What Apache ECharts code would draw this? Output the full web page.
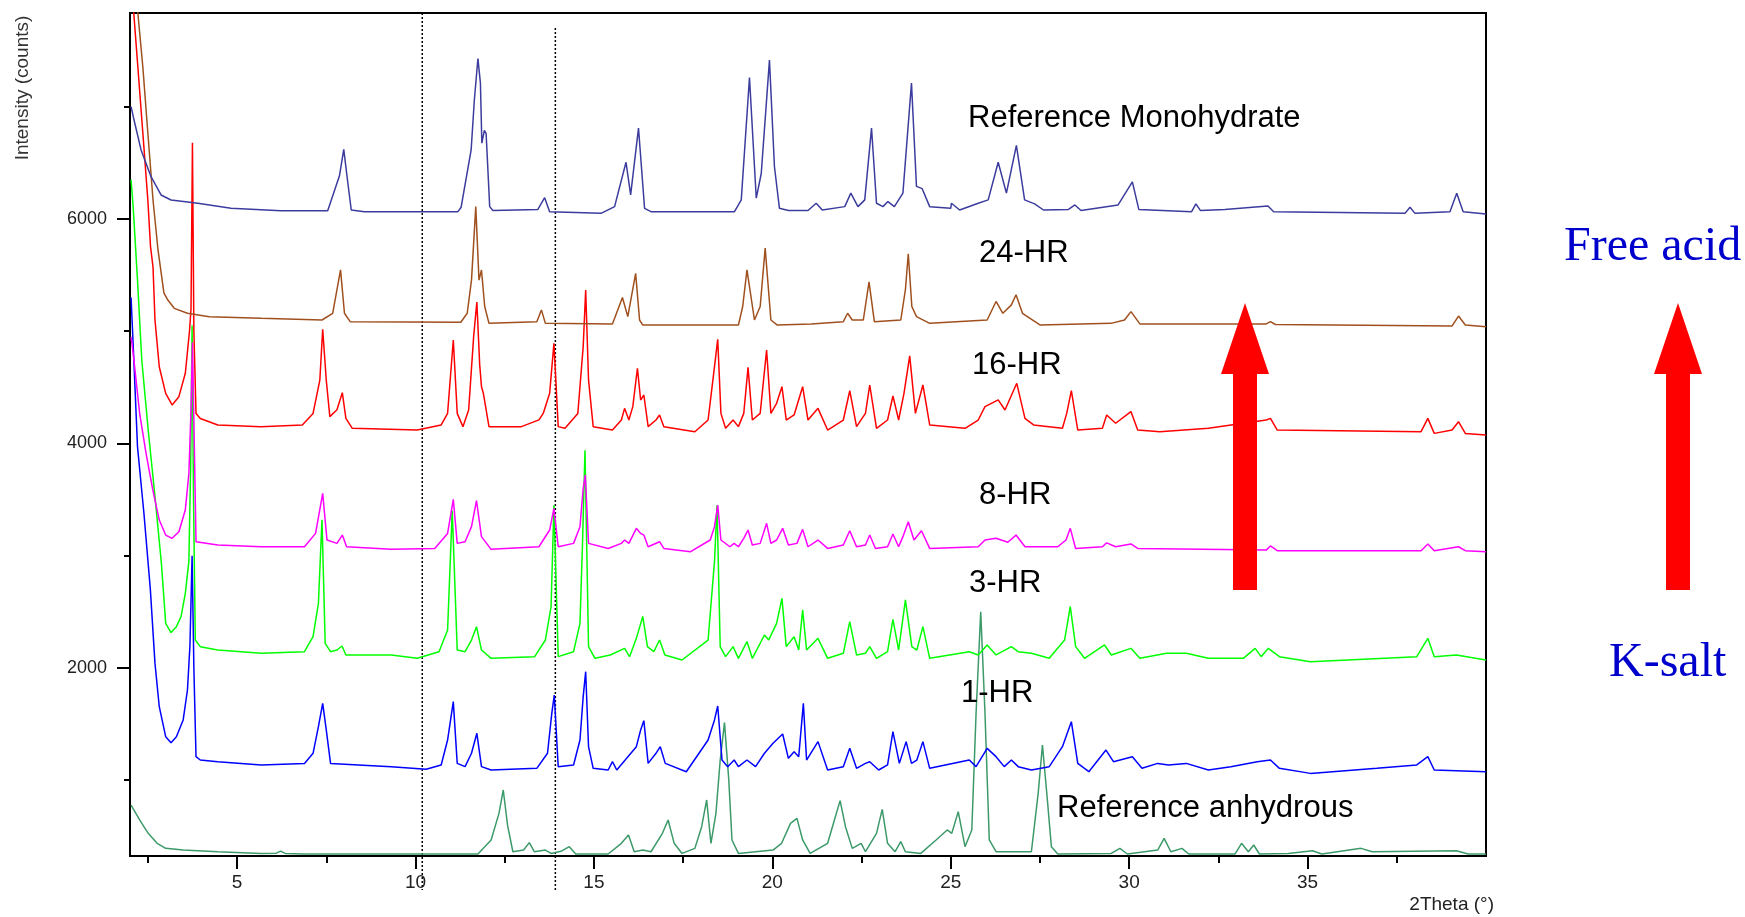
<!DOCTYPE html>
<html><head><meta charset="utf-8">
<script src="https://cdn.jsdelivr.net/npm/echarts@6/dist/echarts.min.js"></script>
<style>html,body{margin:0;padding:0;background:#fff}#c{width:1745px;height:917px}</style>
</head><body><div id="c"></div>
<script>
// ---- axis ticks ----
const xMajorTicks = [5, 10, 15, 20, 25, 30, 35];
const xMinorTicks = [2.5, 7.5, 12.5, 17.5, 22.5, 27.5, 32.5, 37.5];
const yMajorTicks = [2000, 4000, 6000];
const yMinorTicks = [1000, 3000, 5000, 7000];
const markerAngles = [10.19, 13.92];   // dotted reference lines (2θ)

// ---- series names ----
const seriesNames = ['Reference anhydrous', '1-HR', '3-HR', '8-HR', '16-HR', '24-HR', 'Reference Monohydrate'];

// ---- series values [2θ, counts] ----
const monohydrate = [[2.03,7000],[2.1,6900],[2.31,6615],[2.59,6377],[2.87,6214],[3.15,6169],[3.9,6140],[4.83,6095],[6.23,6074],[7.54,6074],[7.59,6080],[7.87,6385],[7.99,6620],[8.08,6385],[8.2,6080],[8.57,6065],[11.19,6065],[11.28,6105],[11.56,6615],[11.65,7060],[11.75,7430],[11.82,7210],[11.86,6675],[11.93,6790],[11.98,6760],[12.08,6110],[12.17,6075],[13.43,6085],[13.62,6190],[13.76,6065],[15.2,6050],[15.58,6110],[15.9,6505],[16.03,6215],[16.25,6810],[16.42,6095],[16.6,6065],[18.94,6065],[19.13,6170],[19.36,7260],[19.55,6185],[19.69,6405],[19.92,7415],[20.06,6465],[20.2,6095],[20.45,6075],[21.0,6075],[21.23,6140],[21.4,6080],[22.03,6110],[22.2,6230],[22.4,6110],[22.59,6170],[22.78,6810],[22.92,6140],[23.1,6110],[23.24,6155],[23.42,6110],[23.66,6230],[23.9,7210],[24.04,6290],[24.2,6270],[24.41,6110],[25.0,6095],[25.02,6140],[25.25,6080],[25.77,6140],[26.05,6170],[26.33,6505],[26.56,6230],[26.84,6655],[27.07,6170],[27.35,6135],[27.6,6080],[28.3,6085],[28.48,6125],[28.65,6075],[29.69,6125],[30.09,6330],[30.27,6085],[31.75,6065],[31.87,6135],[32.0,6075],[32.68,6085],[33.89,6115],[34.05,6065],[37.73,6050],[37.87,6105],[38.01,6050],[38.99,6065],[39.18,6230],[39.36,6065],[40.0,6045]];

const hr24 = [[2.03,8450],[2.22,7835],[2.36,7354],[2.5,6766],[2.645,6169],[2.785,5724],[2.95,5341],[3.06,5278],[3.24,5204],[3.61,5160],[4.22,5130],[5.68,5115],[7.38,5100],[7.68,5160],[7.9,5546],[8.01,5160],[8.17,5085],[11.27,5080],[11.45,5160],[11.57,5455],[11.69,6110],[11.78,5455],[11.85,5546],[11.94,5220],[12.06,5070],[13.4,5085],[13.53,5190],[13.64,5070],[15.52,5065],[15.8,5300],[15.95,5130],[16.17,5515],[16.28,5100],[16.37,5055],[19.05,5055],[19.17,5220],[19.29,5546],[19.5,5100],[19.66,5220],[19.8,5740],[19.96,5100],[20.14,5055],[21.09,5065],[21.99,5085],[22.11,5160],[22.24,5100],[22.55,5100],[22.71,5440],[22.86,5085],[23.6,5100],[23.73,5370],[23.81,5690],[23.91,5220],[24.04,5130],[24.41,5070],[26.02,5100],[26.27,5265],[26.46,5160],[26.7,5235],[26.83,5325],[27.01,5160],[27.51,5055],[29.49,5070],[29.87,5100],[30.05,5175],[30.3,5065],[33.84,5065],[33.96,5085],[34.1,5060],[39.05,5047],[39.23,5135],[39.42,5055],[40.0,5040]];

const hr16 = [[2.03,8150],[2.22,7354],[2.36,6766],[2.5,6169],[2.575,5754],[2.645,5572],[2.7,5100],[2.82,4684],[3.0,4447],[3.18,4343],[3.37,4417],[3.55,4625],[3.67,5011],[3.71,5200],[3.75,6680],[3.79,5000],[3.85,4268],[3.97,4223],[4.46,4165],[5.67,4150],[6.83,4165],[7.13,4268],[7.32,4565],[7.4,5017],[7.5,4565],[7.6,4239],[7.8,4300],[7.95,4453],[8.05,4224],[8.23,4135],[10.05,4120],[10.72,4165],[10.9,4268],[11.06,4922],[11.17,4268],[11.33,4150],[11.49,4298],[11.63,4952],[11.72,5260],[11.8,4700],[11.85,4506],[11.9,4450],[12.06,4150],[12.97,4150],[13.46,4210],[13.58,4268],[13.76,4447],[13.88,4892],[14.0,4150],[14.19,4135],[14.55,4268],[14.7,4863],[14.77,5368],[14.85,4566],[14.98,4150],[15.52,4120],[15.77,4209],[15.86,4313],[15.98,4209],[16.09,4328],[16.22,4670],[16.31,4387],[16.4,4432],[16.52,4150],[16.74,4209],[16.84,4254],[16.96,4150],[17.83,4105],[18.2,4209],[18.38,4684],[18.47,4928],[18.56,4268],[18.69,4135],[18.9,4209],[19.05,4150],[19.2,4268],[19.32,4678],[19.44,4209],[19.66,4268],[19.84,4833],[19.96,4268],[20.12,4358],[20.27,4506],[20.39,4209],[20.61,4254],[20.85,4506],[21.0,4209],[21.28,4313],[21.55,4120],[21.99,4209],[22.17,4470],[22.36,4150],[22.61,4268],[22.73,4521],[22.92,4135],[23.23,4209],[23.38,4423],[23.54,4209],[23.69,4447],[23.85,4780],[24.01,4268],[24.22,4521],[24.41,4165],[25.4,4135],[25.77,4209],[25.96,4328],[26.33,4388],[26.52,4298],[26.85,4536],[27.08,4224],[27.32,4165],[28.13,4135],[28.25,4268],[28.38,4470],[28.56,4120],[29.25,4135],[29.37,4254],[29.62,4180],[30.05,4284],[30.24,4120],[30.86,4105],[32.22,4135],[33.84,4209],[33.96,4224],[34.15,4120],[38.18,4105],[38.37,4224],[38.55,4090],[39.05,4120],[39.23,4194],[39.42,4090],[40.0,4076]];

const hr8 = [[2.03,4950],[2.09,4800],[2.27,4269],[2.45,3912],[2.64,3585],[2.82,3318],[3.0,3184],[3.18,3155],[3.37,3214],[3.55,3407],[3.65,3734],[3.71,4300],[3.75,4900],[3.79,4200],[3.85,3125],[4.46,3095],[5.68,3080],[6.89,3080],[7.2,3199],[7.4,3556],[7.52,3140],[7.8,3110],[7.95,3184],[8.07,3080],[9.32,3057],[10.54,3065],[10.9,3199],[11.06,3502],[11.17,3110],[11.39,3125],[11.57,3259],[11.71,3490],[11.85,3170],[12.12,3057],[13.46,3080],[13.76,3229],[13.88,3422],[14.0,3080],[14.43,3110],[14.61,3259],[14.7,3600],[14.76,3720],[14.85,3110],[15.4,3065],[15.77,3110],[15.86,3140],[15.98,3110],[16.19,3244],[16.31,3199],[16.4,3184],[16.52,3080],[16.84,3125],[16.96,3065],[17.71,3036],[18.26,3140],[18.38,3259],[18.47,3452],[18.56,3140],[18.81,3080],[18.93,3110],[19.05,3080],[19.2,3155],[19.32,3229],[19.44,3095],[19.66,3110],[19.84,3289],[19.96,3110],[20.12,3140],[20.29,3244],[20.45,3095],[20.69,3110],[20.85,3235],[21.0,3080],[21.28,3140],[21.55,3065],[21.99,3095],[22.17,3223],[22.36,3080],[22.61,3095],[22.73,3184],[22.89,3065],[23.23,3080],[23.38,3193],[23.54,3080],[23.66,3170],[23.81,3303],[23.97,3140],[24.18,3223],[24.41,3065],[25.77,3080],[25.96,3140],[26.27,3155],[26.6,3120],[26.83,3184],[27.08,3080],[28.0,3080],[28.23,3140],[28.35,3244],[28.5,3065],[29.25,3080],[29.37,3115],[29.62,3080],[30.05,3105],[30.24,3065],[33.84,3050],[33.96,3087],[34.15,3045],[38.18,3045],[38.37,3104],[38.55,3045],[39.23,3080],[39.42,3045],[40.0,3036]];

const hr3 = [[2.03,6350],[2.09,6100],[2.21,5457],[2.33,4744],[2.51,4120],[2.7,3526],[2.88,2932],[3.0,2398],[3.15,2315],[3.3,2368],[3.43,2457],[3.55,2665],[3.65,2950],[3.7,3800],[3.74,5050],[3.78,3500],[3.83,2249],[3.97,2190],[4.46,2160],[5.68,2131],[6.89,2145],[7.13,2279],[7.28,2576],[7.38,3320],[7.47,2220],[7.62,2145],[7.8,2160],[7.94,2196],[8.05,2115],[9.32,2116],[10.05,2086],[10.66,2145],[10.9,2338],[11.03,3400],[11.17,2160],[11.39,2145],[11.57,2249],[11.71,2368],[11.85,2160],[12.12,2086],[13.34,2101],[13.64,2249],[13.8,2546],[13.88,3450],[14.0,2101],[14.43,2145],[14.61,2398],[14.68,3100],[14.75,3940],[14.85,2190],[15.03,2086],[15.46,2116],[15.86,2175],[16.0,2101],[16.19,2264],[16.37,2460],[16.5,2190],[16.68,2145],[16.84,2249],[16.99,2116],[17.47,2071],[18.2,2249],[18.38,2950],[18.45,3450],[18.54,2190],[18.69,2101],[18.9,2190],[19.05,2086],[19.29,2235],[19.44,2086],[19.78,2294],[19.9,2250],[20.12,2398],[20.27,2620],[20.39,2190],[20.61,2279],[20.74,2160],[20.85,2517],[20.96,2160],[21.28,2264],[21.55,2086],[21.99,2131],[22.17,2413],[22.36,2116],[22.61,2131],[22.73,2190],[22.92,2086],[23.23,2145],[23.38,2434],[23.54,2160],[23.73,2606],[23.91,2190],[24.05,2160],[24.22,2368],[24.41,2086],[25.52,2145],[25.77,2116],[26.02,2205],[26.27,2116],[26.7,2190],[26.89,2145],[27.26,2131],[27.76,2086],[28.19,2249],[28.35,2546],[28.5,2190],[28.75,2086],[29.31,2205],[29.5,2116],[30.05,2175],[30.3,2086],[31.05,2131],[31.6,2131],[32.22,2086],[33.2,2086],[33.53,2175],[33.7,2101],[33.9,2175],[34.21,2101],[35.08,2056],[38.06,2101],[38.37,2264],[38.55,2101],[39.17,2116],[40.0,2071]];

const hr1 = [[2.03,5300],[2.1,4800],[2.21,3972],[2.39,3378],[2.57,2700],[2.7,2041],[2.82,1655],[3.0,1388],[3.15,1335],[3.3,1388],[3.49,1537],[3.61,1804],[3.68,2200],[3.74,3000],[3.79,2000],[3.85,1210],[3.97,1180],[4.46,1165],[5.68,1136],[6.89,1150],[7.13,1240],[7.28,1477],[7.4,1685],[7.5,1448],[7.62,1150],[9.32,1121],[10.3,1097],[10.72,1136],[10.9,1358],[11.06,1700],[11.17,1150],[11.39,1121],[11.57,1240],[11.72,1418],[11.85,1121],[12.12,1091],[13.4,1106],[13.7,1240],[13.82,1596],[13.89,1759],[14.0,1121],[14.43,1136],[14.61,1358],[14.7,1745],[14.77,1967],[14.85,1299],[14.98,1106],[15.4,1091],[15.52,1165],[15.64,1091],[16.19,1299],[16.31,1448],[16.4,1531],[16.52,1150],[16.74,1240],[16.86,1299],[17.0,1150],[17.59,1076],[18.2,1358],[18.38,1537],[18.47,1661],[18.59,1180],[18.75,1121],[18.93,1180],[19.05,1121],[19.29,1180],[19.53,1121],[19.78,1240],[20.02,1329],[20.29,1412],[20.45,1195],[20.61,1254],[20.74,1210],[20.87,1685],[20.96,1180],[21.28,1344],[21.55,1091],[21.99,1121],[22.17,1284],[22.36,1106],[22.61,1150],[22.73,1165],[22.98,1091],[23.23,1136],[23.38,1433],[23.56,1150],[23.75,1344],[23.9,1150],[24.05,1180],[24.22,1344],[24.41,1106],[25.52,1180],[25.71,1121],[26.02,1284],[26.27,1210],[26.5,1121],[26.7,1180],[26.89,1121],[27.26,1091],[27.76,1121],[28.13,1299],[28.38,1522],[28.56,1150],[28.87,1076],[29.35,1269],[29.56,1165],[30.09,1210],[30.36,1106],[30.8,1150],[31.1,1136],[31.6,1150],[32.22,1091],[32.85,1121],[33.59,1165],[33.96,1180],[34.21,1106],[35.08,1061],[36.94,1106],[38.06,1136],[38.37,1210],[38.55,1091],[39.17,1085],[40.0,1076]];

const anhydrous = [[2.03,779],[2.27,646],[2.51,527],[2.76,438],[3.0,393],[3.49,378],[4.46,363],[5.68,348],[6.1,350],[6.22,368],[6.35,348],[6.89,343],[11.75,343],[12.12,468],[12.34,705],[12.46,913],[12.58,600],[12.73,363],[13.03,378],[13.19,444],[13.33,363],[13.64,378],[13.8,348],[14.1,370],[14.31,408],[14.49,343],[15.4,343],[15.77,438],[15.97,512],[16.13,363],[16.37,378],[16.6,363],[16.92,527],[17.08,646],[17.25,438],[17.47,348],[17.83,393],[18.02,586],[18.16,824],[18.28,438],[18.42,705],[18.54,1180],[18.66,1513],[18.78,1002],[18.87,468],[19.05,348],[20.02,378],[20.26,438],[20.51,616],[20.69,660],[20.85,468],[21.06,348],[21.55,438],[21.74,646],[21.9,818],[22.05,586],[22.24,393],[22.49,438],[22.61,363],[22.92,527],[23.08,741],[23.23,438],[23.44,363],[23.6,453],[23.73,363],[24.16,348],[24.59,468],[24.9,557],[25.03,527],[25.21,720],[25.4,408],[25.59,557],[25.71,1596],[25.84,2500],[25.96,1596],[26.08,468],[26.27,363],[27.26,363],[27.45,883],[27.57,1314],[27.7,854],[27.82,408],[28.0,343],[29.5,348],[29.74,393],[29.95,343],[30.8,378],[30.98,482],[31.17,363],[31.48,393],[31.67,343],[32.97,343],[33.15,438],[33.34,363],[33.49,423],[33.65,343],[34.46,348],[35.14,372],[35.4,343],[36.5,393],[36.81,363],[39.17,372],[39.5,343],[40.0,343]];

const seriesData = [anhydrous, hr1, hr3, hr8, hr16, hr24, monohydrate];
const seriesColors = ['#3c9a6a', '#0000ff', '#00ff00', '#ff00ff', '#ff0000', '#a0501e', '#3c3c9e'];

const SANS = '"Liberation Sans", Arial, sans-serif';
const SERIF = '"Liberation Serif", "Times New Roman", serif';

const chart = echarts.init(document.getElementById('c'), null, {renderer: 'canvas'});

const tickStyle = {color: '#000', width: 2};
const plain = v => String(v);
const option = {
  animation: false,
  grid: {left: 130, right: 259, top: 13, bottom: 61, show: true, borderColor: '#000', borderWidth: 2, backgroundColor: 'transparent'},
  xAxis: [
    {type: 'value', min: 2, max: 40, position: 'bottom',
     axisLine: {show: true, onZero: false, lineStyle: {color: '#000', width: 2}},
     axisTick: {show: true, customValues: xMajorTicks, length: 13, lineStyle: tickStyle},
     axisLabel: {show: true, customValues: xMajorTicks, formatter: plain, margin: 17, fontSize: 19, color: '#222', fontFamily: SANS},
     splitLine: {show: false}},
    {type: 'value', min: 2, max: 40, position: 'bottom',
     axisLine: {show: false, onZero: false},
     axisTick: {show: true, customValues: xMinorTicks, length: 7, lineStyle: tickStyle},
     axisLabel: {show: false}, splitLine: {show: false}}
  ],
  yAxis: [
    {type: 'value', min: 325, max: 7835, position: 'left',
     axisLine: {show: true, onZero: false, lineStyle: {color: '#000', width: 2}},
     axisTick: {show: true, customValues: yMajorTicks, length: 13, lineStyle: tickStyle},
     axisLabel: {show: true, customValues: yMajorTicks, formatter: plain, margin: 23, fontSize: 18, color: '#222', fontFamily: SANS},
     splitLine: {show: false}},
    {type: 'value', min: 325, max: 7835, position: 'left',
     axisLine: {show: false, onZero: false},
     axisTick: {show: true, customValues: yMinorTicks, length: 6, lineStyle: tickStyle},
     axisLabel: {show: false}, splitLine: {show: false}}
  ],
  series: seriesData.map((d, i) => ({
    name: seriesNames[i], type: 'line', data: d, xAxisIndex: 0, yAxisIndex: 0,
    showSymbol: false, symbol: 'none', clip: true,
    lineStyle: {color: seriesColors[i], width: 1.5}, z: 2 + i
  }))
};
chart.setOption(option);

// annotations
const px = v => chart.convertToPixel({xAxisIndex: 0}, v);
const label = (text, x, y, size) => ({type: 'text', x: x, y: y, z: 20,
  style: {text: text, font: size + 'px ' + SANS, fill: '#000', align: 'left', verticalAlign: 'middle'}});
const arrow = (cx) => ({type: 'polygon', z: 15,
  shape: {points: [[cx, 303], [cx + 24, 374], [cx + 12, 374], [cx + 12, 590], [cx - 12, 590], [cx - 12, 374], [cx - 24, 374]]},
  style: {fill: '#ff0000'}});

chart.setOption({graphic: [
  {type: 'line', z: 1, shape: {x1: px(markerAngles[0]), y1: 13, x2: px(markerAngles[0]), y2: 890}, style: {stroke: '#000', lineWidth: 1.5, lineDash: [2, 2]}},
  {type: 'line', z: 1, shape: {x1: px(markerAngles[1]), y1: 28, x2: px(markerAngles[1]), y2: 890}, style: {stroke: '#000', lineWidth: 1.5, lineDash: [2, 2]}},
  label('Reference Monohydrate', 968, 118, 31),
  label('24-HR', 979, 253, 31),
  label('16-HR', 972, 365, 31),
  label('8-HR', 979, 495, 31),
  label('3-HR', 969, 583, 31),
  label('1-HR', 961, 693, 31),
  label('Reference anhydrous', 1057, 808, 31),
  arrow(1245),
  arrow(1678),
  {type: 'text', x: 1564, y: 247, z: 20, style: {text: 'Free acid', font: '48px ' + SERIF, fill: '#0000cc', align: 'left', verticalAlign: 'middle'}},
  {type: 'text', x: 1609, y: 663, z: 20, style: {text: 'K-salt', font: '48px ' + SERIF, fill: '#0000cc', align: 'left', verticalAlign: 'middle'}},
  {type: 'text', x: 23, y: 88, rotation: Math.PI / 2, z: 20, style: {text: 'Intensity (counts)', font: '19px ' + SANS, fill: '#333', align: 'center', verticalAlign: 'middle'}},
  {type: 'text', x: 1494, y: 905, z: 20, style: {text: '2Theta (°)', font: '19px ' + SANS, fill: '#222', align: 'right', verticalAlign: 'middle'}}
]});
</script>
</body></html>
